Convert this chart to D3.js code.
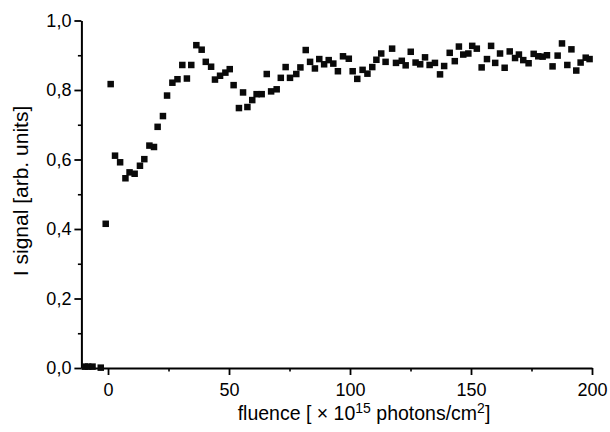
<!DOCTYPE html>
<html><head><meta charset="utf-8">
<script src="https://cdn.jsdelivr.net/npm/d3@7"></script>
<style>
html,body{margin:0;padding:0;background:#fff;}
text{font-family:"Liberation Sans",Arial,Helvetica,sans-serif;fill:#000;}
</style></head>
<body>
<svg id="c" width="610" height="432"></svg>
<script>
const fluence = [-9.6,-8.2,-6.4,-3.0,-0.95,1.1,2.9,5.0,7.2,8.9,11.0,13.2,15.0,17.1,19.0,20.5,22.7,24.4,26.6,28.7,30.7,32.6,34.4,36.5,38.7,40.4,42.6,44.2,46.3,48.5,50.3,51.9,54.1,55.8,57.6,59.6,61.4,63.5,65.6,67.4,69.7,71.4,73.4,75.2,77.8,79.5,81.7,83.5,85.5,87.3,89.3,91.2,93.1,95.0,97.1,99.5,101.1,103.0,105.2,107.2,109.2,110.9,112.9,114.7,117.4,119.0,121.4,123.0,125.1,127.1,129.0,131.0,132.9,135.1,137.2,138.9,141.2,143.3,145.0,146.8,148.9,150.5,152.4,154.4,156.6,158.3,160.0,162.0,163.9,166.0,168.2,169.8,171.6,173.8,175.9,177.8,179.6,181.4,183.7,185.8,187.6,189.8,191.5,193.5,195.3,197.4,199.0];
const signal = [0.004,0.004,0.004,0.001,0.415,0.817,0.611,0.592,0.546,0.563,0.559,0.582,0.601,0.640,0.636,0.694,0.725,0.784,0.821,0.831,0.872,0.833,0.872,0.929,0.916,0.881,0.867,0.830,0.841,0.850,0.860,0.814,0.748,0.793,0.751,0.771,0.788,0.788,0.846,0.796,0.802,0.835,0.866,0.835,0.846,0.865,0.915,0.881,0.862,0.889,0.874,0.886,0.876,0.854,0.897,0.890,0.854,0.832,0.858,0.847,0.866,0.887,0.905,0.881,0.919,0.878,0.884,0.871,0.910,0.879,0.874,0.894,0.872,0.878,0.845,0.869,0.907,0.883,0.925,0.902,0.905,0.927,0.919,0.865,0.889,0.927,0.878,0.905,0.864,0.911,0.892,0.902,0.886,0.877,0.904,0.897,0.896,0.900,0.868,0.899,0.934,0.872,0.917,0.856,0.879,0.893,0.889];
const xMajorTicks = [0,50,100,150,200];
const xMinorTicks = [25,75,125,175];
const yMajorTicks = [0,0.2,0.4,0.6,0.8,1.0];
const yMinorTicks = [0.1,0.3,0.5,0.7,0.9];
const xTitle = "fluence [ \u00d7 10";
const yTitle = "I signal [arb. units]";

const svg = d3.select("#c");
const x = d3.scaleLinear().domain([-11,200]).range([81.4,592]);
const y = d3.scaleLinear().domain([0,1]).range([368,20.5]);
const fmt = d => d3.format(".1f")(d).replace(".", ",");

// minor ticks
svg.append("g").attr("transform","translate(0,368)")
  .call(d3.axisBottom(x).tickValues(xMinorTicks).tickSize(3.5).tickFormat(""))
  .call(g=>g.select(".domain").remove())
  .call(g=>g.selectAll("line").attr("stroke-width",1.6));
svg.append("g").attr("transform","translate(81.4,0)")
  .call(d3.axisLeft(y).tickValues(yMinorTicks).tickSize(3.5).tickFormat(""))
  .call(g=>g.select(".domain").remove())
  .call(g=>g.selectAll("line").attr("stroke-width",1.6));

// major axes
const gx = svg.append("g").attr("transform","translate(0,368)")
  .call(d3.axisBottom(x).tickValues(xMajorTicks).tickSize(7).tickSizeOuter(0).tickPadding(8).tickFormat(d3.format("d")));
gx.select(".domain").attr("stroke-width",2);
gx.selectAll("line").attr("stroke-width",1.8);
gx.selectAll("text").attr("font-size",18).attr("font-family","Liberation Sans, Arial, sans-serif");

const gy = svg.append("g").attr("transform","translate(81.4,0)")
  .call(d3.axisLeft(y).tickValues(yMajorTicks).tickSize(7).tickSizeOuter(0).tickPadding(3).tickFormat(fmt));
gy.select(".domain").attr("stroke-width",2);
gy.selectAll("line").attr("stroke-width",1.8);
gy.selectAll("text").attr("font-size",18).attr("font-family","Liberation Sans, Arial, sans-serif");

// points
const pts = fluence.map((f,i)=>({f, s: signal[i]}));
const sz = 6.5;
svg.append("g").selectAll("rect").data(pts).join("rect")
  .attr("x", d=>x(d.f)-sz/2).attr("y", d=>y(d.s)-sz/2)
  .attr("width", sz).attr("height", sz).attr("fill", "#0a0a0a");

// titles
const xt = svg.append("text").attr("x", 364).attr("y", 420).attr("text-anchor","middle").attr("font-size",19.5);
xt.append("tspan").text(xTitle);
xt.append("tspan").attr("dy",-7).attr("font-size",14).text("15");
xt.append("tspan").attr("dy",7).text(" photons/cm");
xt.append("tspan").attr("dy",-7).attr("font-size",14).text("2");
xt.append("tspan").attr("dy",7).text("]");

svg.append("text").attr("transform","translate(28,191) rotate(-90)")
  .attr("text-anchor","middle").attr("font-size",21).text(yTitle);
</script>
</body></html>
